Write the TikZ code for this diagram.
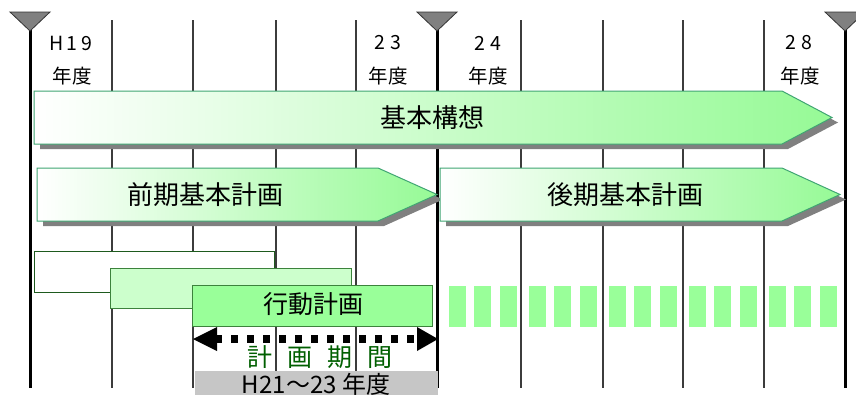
\documentclass[tikz,border=0pt]{standalone}
\usepackage{fontspec}
\setmainfont{Noto Sans CJK JP}
\definecolor{arrowgreen}{RGB}{150,250,150}
\definecolor{edgegreen}{RGB}{64,165,115}
\definecolor{shadowgray}{RGB}{128,128,128}
\definecolor{gridgray}{RGB}{60,60,60}
\definecolor{boxedgeA}{RGB}{30,90,30}
\definecolor{boxedgeB}{RGB}{60,130,60}
\definecolor{lightbox}{RGB}{204,255,204}
\definecolor{midbox}{RGB}{153,255,153}
\definecolor{textgreen}{RGB}{0,95,0}
\definecolor{bandgray}{RGB}{198,198,198}
\newcommand\fsz[1]{\fontsize{#1}{#1}\selectfont}
\newcommand\planarrow[5]{% left, top, bottom, straight end, tip
  \fill[shadowgray, shift={(6,5)}] (#1,#2) -- (#4,#2) -- (#5,{(#2+#3)/2}) -- (#4,#3) -- (#1,#3) -- cycle;
  \path[draw=edgegreen, line width=1pt, left color=white, right color=arrowgreen]
    (#1,#2) -- (#4,#2) -- (#5,{(#2+#3)/2}) -- (#4,#3) -- (#1,#3) -- cycle;
}
\begin{document}
\begin{tikzpicture}[x=1pt,y=-1pt,
  thinline/.style={draw=gridgray, line width=1.5pt},
  thickline/.style={draw=black, line width=3pt},
  marker/.style={fill=shadowgray, draw=black!80, line width=0.8pt},
  yearlbl/.style={font=\fsz{19.5pt}, inner sep=0pt},
  bigtext/.style={font=\fsz{26pt}, inner sep=0pt},
  planbox/.style={line width=1pt},
  block/.style={fill=midbox},
]
\clip (0,0) rectangle (856,394);
\fill[white] (0,0) rectangle (856,394);

% grid lines
\foreach \x in {112,193,276,356,521,603,683,764}
  \draw[thinline] (\x,20) -- (\x,388);
\foreach \x in {30,437,845} {
  \draw[thickline] (\x,28) -- (\x,388);
  \draw[marker] (\x-20,12) -- (\x+20,12) -- (\x,31) -- cycle;
}

% year labels
\node[yearlbl] (y19a) at (71,43) {H\hspace{3pt}1\hspace{4pt}9};
\node[yearlbl] (y19b) at (72,76) {年度};
\node[yearlbl] (y23a) at (388,43) {2\hspace{5pt}3};
\node[yearlbl] (y23b) at (388,76) {年度};
\node[yearlbl] (y24a) at (488,43) {2\hspace{5pt}4};
\node[yearlbl] (y24b) at (488,76) {年度};
\node[yearlbl] (y28a) at (799,43) {2\hspace{5pt}8};
\node[yearlbl] (y28b) at (800,76) {年度};

% plan arrows
\planarrow{34}{91}{144}{782}{832}
\node[bigtext] (kihon) at (432,118) {基本構想};
\planarrow{37}{168}{221}{378}{437}
\node[bigtext] (zenki) at (205,195) {前期基本計画};
\planarrow{440}{168}{221}{782}{840}
\node[bigtext] (kouki) at (625,195) {後期基本計画};

% action plan boxes
\draw[planbox, draw=boxedgeA, fill=white] (34,251) rectangle (274,292);
\draw[planbox, draw=boxedgeB, fill=lightbox] (110,268) rectangle (351,308);
\draw[planbox, draw=boxedgeB, fill=midbox] (192,285) rectangle (432,326);
\node[font=\fsz{25pt}, inner sep=0pt] (koudou) at (313,304) {行動計画};

% future blocks
\foreach \g in {0,...,4}
  \foreach \d in {0,25,51}
    \fill[block] (449+80*\g+\d,286) rectangle ++(17,41);

% plan period arrow
\coordinate (pl) at (193,339);
\coordinate (pr) at (438,339);
\draw[line width=8pt, dash pattern=on 7pt off 9pt] (215,339) -- (420,339);
\fill (pl) -- (217,327) -- (217,351) -- cycle;
\fill (pr) -- (417,327) -- (417,351) -- cycle;
\node[font=\fsz{25pt}, text=textgreen, inner sep=0pt] (kikan) at (320,357)
  {計\hspace{15pt}画\hspace{15pt}期\hspace{15pt}間};

% period band
\fill[bandgray] (195,371) rectangle (438,400);
\node[font=\fsz{24pt}, inner sep=0pt, anchor=base] (period) at (316,393) {H21～23 年度};
\end{tikzpicture}
\end{document}
